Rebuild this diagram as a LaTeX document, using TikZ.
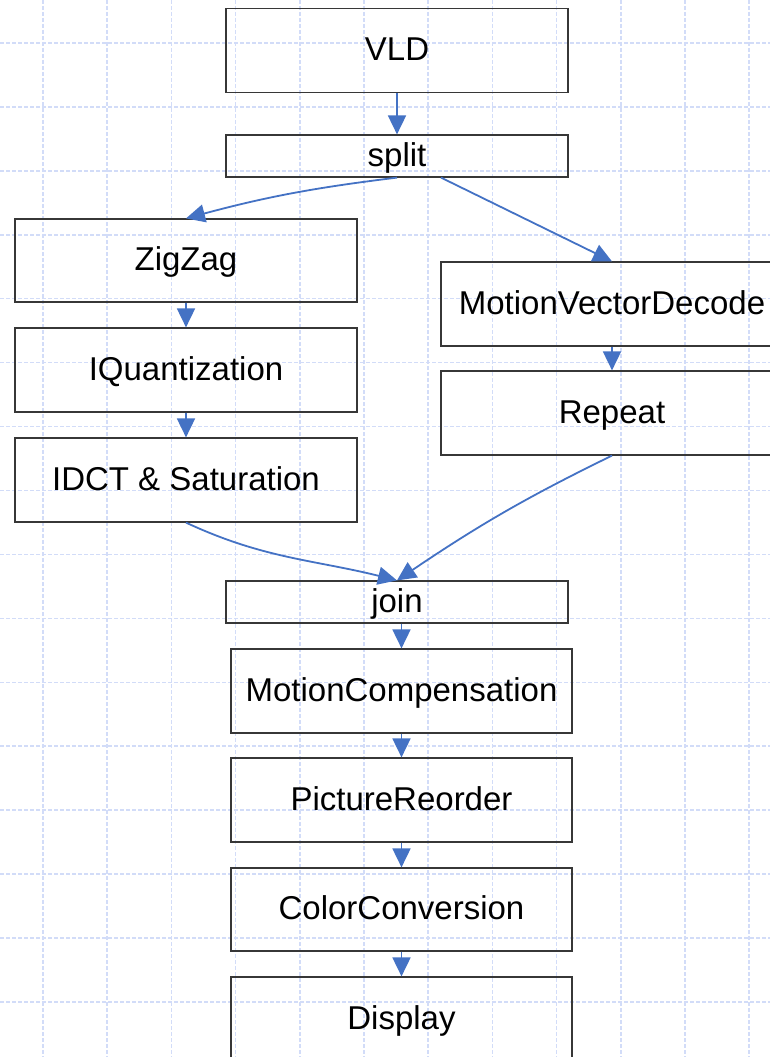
\documentclass[tikz,border=0pt]{standalone}
\usepackage{fontspec}
\setmainfont{Liberation Sans}
\usetikzlibrary{arrows.meta}
\definecolor{gridblue}{RGB}{210,220,248}
\definecolor{flowblue}{RGB}{68,114,196}
\definecolor{boxline}{RGB}{55,55,55}
\tikzset{
  stage/.style={draw=boxline, line width=1.2pt, minimum width=342pt, minimum height=84pt,
    inner sep=0pt, font=\fontsize{33}{36}\selectfont, text height=25pt, text depth=5pt},
  thin stage/.style={stage, minimum height=42pt},
  flow/.style={draw=flowblue, line width=1.8pt, -{Triangle[length=19pt,width=18pt]}},
  gridline/.style={draw=gridblue, line width=1.5pt, dash pattern=on 4pt off 2pt}
}
\begin{document}
\begin{tikzpicture}[x=1pt,y=1pt]
\useasboundingbox (0,0) rectangle (770,-1057);
\clip (0,0) rectangle (770,-1057);
% dashed background grid
\foreach \k in {0,...,11} {
  \draw[gridline] ({43+64.2*\k},0) -- ({43+64.2*\k},-1057);
}
\foreach \k in {0,...,15} {
  \draw[gridline] (0,{-43-63.93*\k}) -- (770,{-43-63.93*\k});
}
% decoder stages
\node[stage] (vld) at (397,-50.5) {VLD};
\node[thin stage] (split) at (397,-156) {split};
\node[stage, minimum height=83pt] (zz) at (186,-260.5) {ZigZag};
\node[stage] (iq) at (186,-370) {IQuantization};
\node[stage] (idct) at (186,-480) {IDCT \& Saturation};
\node[stage] (mvd) at (612,-304) {MotionVectorDecode};
\node[stage] (rep) at (612,-413) {Repeat};
\node[thin stage] (join) at (397,-602) {join};
\node[stage, minimum width=341pt] (mc) at (401.5,-691) {MotionCompensation};
\node[stage, minimum width=341pt] (pr) at (401.5,-800) {PictureReorder};
\node[stage, minimum width=341pt, minimum height=83pt] (cc) at (401.5,-909.5) {ColorConversion};
\node[stage, minimum width=341pt] (disp) at (401.5,-1019) {Display};
% connectors
\draw[flow] (vld.south) -- (split.north);
\draw[flow] (split.south) to[out=187, in=15] (zz.north);
\draw[flow] ([xshift=44pt]split.south) -- (mvd.north);
\draw[flow] (zz.south) -- (iq.north);
\draw[flow] (iq.south) -- (idct.north);
\draw[flow] (mvd.south) -- (rep.north);
\draw[flow] (idct.south) to[out=-25, in=166] (join.north);
\draw[flow] (rep.south) to[out=206, in=34] (join.north);
\draw[flow] (mc.north |- join.south) -- (mc.north);
\draw[flow] (mc.south) -- (pr.north);
\draw[flow] (pr.south) -- (cc.north);
\draw[flow] (cc.south) -- (disp.north);
\end{tikzpicture}
\end{document}
